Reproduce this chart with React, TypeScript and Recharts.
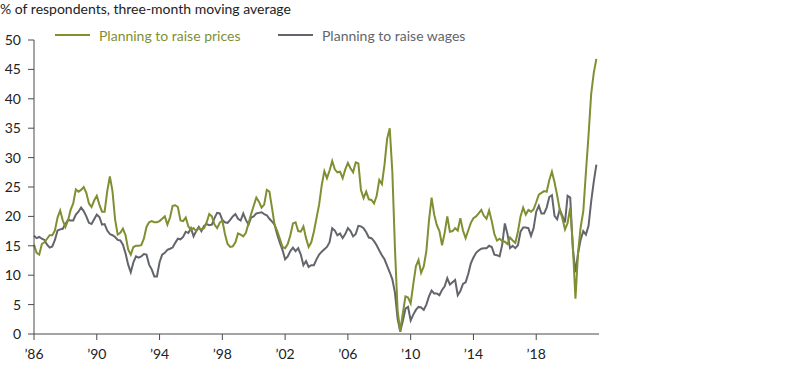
import { LineChart, Line, XAxis, YAxis } from "recharts";

// bimonthly readings, first point Jan 1986
const START_YEAR = 1986;
const STEP = 1 / 6;

const prices = [
  15.2, 13.8, 13.5, 15.3, 15.6, 16.2, 16.8, 16.8, 17.6, 19.8, 21.0, 19.3,
  18.2, 19.3, 21.1, 22.2, 24.6, 24.2, 24.5, 25.0, 24.0, 22.2, 21.6, 22.7,
  23.5, 22.0, 20.8, 20.8, 24.3, 26.8, 24.3, 19.5, 16.9, 17.2, 17.9, 16.8,
  14.4, 13.5, 14.8, 15.0, 15.0, 15.1, 16.2, 18.2, 19.0, 19.2, 19.0, 19.0,
  19.2, 19.6, 20.0, 18.6, 19.8, 21.8, 21.9, 21.6, 19.3, 19.2, 19.8, 18.3,
  17.7, 18.0, 17.5, 18.0, 17.8, 18.0, 19.0, 20.4, 20.0, 18.6, 18.0, 18.9,
  19.3, 17.0, 15.3, 14.8, 14.9, 15.6, 17.1, 16.9, 16.6, 17.2, 18.8, 20.4,
  21.8, 23.2, 22.5, 21.5, 22.0, 24.5, 24.2, 21.4, 18.5, 17.5, 16.2, 14.8,
  14.6, 15.3, 16.8, 18.8, 19.0, 17.5, 17.4, 18.3, 16.3, 14.8, 15.6, 17.4,
  19.7, 22.0, 25.3, 27.7, 26.5, 27.8, 29.4, 28.0, 27.5, 27.6, 26.5, 28.0,
  29.1, 28.2, 27.5, 29.2, 29.0, 24.5, 23.1, 24.2, 22.9, 22.8, 22.2, 23.5,
  26.2, 25.5, 28.8, 33.2, 35.0, 27.5, 14.5, 4.0, 0.5, 3.5, 6.4, 6.2,
  5.2, 8.5, 11.5, 12.6, 10.4, 11.5, 14.1, 19.3, 23.2, 20.3, 18.5, 17.5,
  15.1, 17.2, 20.0, 17.4, 17.5, 18.0, 17.6, 19.7, 17.6, 16.3, 17.6, 18.9,
  19.7, 20.0, 20.5, 21.1, 20.1, 19.6, 21.0, 19.2, 17.0, 15.9, 16.2, 15.8,
  15.7, 15.3, 16.4, 15.9, 15.5, 17.4, 20.0, 21.5, 20.3, 21.1, 20.8, 21.2,
  22.4, 23.7, 24.0, 24.3, 24.2, 26.2, 27.6, 25.8, 23.6, 21.1, 19.7, 17.8,
  18.9, 21.5, 15.0, 6.0, 13.9, 18.2, 20.9, 27.5, 33.8, 40.8, 44.4, 46.8,
];

const wages = [
  16.7, 16.3, 16.5, 16.2, 16.0, 15.2, 14.7, 14.9, 16.0, 17.6, 17.8, 17.9,
  18.7, 19.4, 19.3, 19.3, 20.3, 20.8, 21.5, 20.9, 20.0, 18.9, 18.7, 19.5,
  20.3, 19.9, 18.6, 18.7, 17.6, 17.0, 16.8, 16.5, 16.0, 15.9, 15.2, 13.7,
  11.8, 10.5, 12.2, 13.2, 13.0, 13.2, 13.6, 13.5, 11.8, 11.0, 9.8, 9.8,
  12.2, 13.5, 13.8, 14.3, 14.5, 14.7, 15.5, 16.2, 16.1, 16.5, 17.4, 17.2,
  18.0, 16.6, 17.5, 18.2, 17.5, 18.4, 18.7, 18.5, 18.6, 19.7, 20.6, 20.5,
  19.4, 19.0, 18.9, 19.4, 20.0, 20.4, 19.6, 19.3, 20.5, 19.4, 18.6, 19.8,
  20.0, 20.5, 20.6, 20.7, 20.4, 20.2, 19.6, 19.1, 18.6, 16.9, 15.5, 14.3,
  12.7, 13.2, 14.1, 14.7, 14.1, 14.6, 13.5, 11.7, 12.4, 11.4, 11.7, 11.7,
  12.7, 13.5, 14.0, 14.4, 14.8, 15.6, 18.0, 17.6, 16.8, 17.1, 16.3, 17.0,
  18.0, 17.5, 16.6, 17.0, 18.4, 18.3, 18.0, 17.3, 16.4, 16.3, 15.8, 15.1,
  14.2, 13.4, 12.7, 11.6, 10.5, 9.3, 7.0, 2.6, 0.4, 2.2, 4.3, 4.6,
  2.3, 3.3, 4.1, 4.6, 4.5, 4.1, 5.0, 6.4, 7.4, 6.9, 6.9, 6.6,
  7.5, 8.1, 9.5, 8.4, 8.8, 9.2, 6.6, 7.3, 8.5, 8.8, 10.2, 12.0,
  13.0, 13.8, 14.2, 14.5, 14.6, 14.6, 15.0, 14.8, 13.5, 13.4, 13.2, 15.2,
  18.8, 17.0, 14.6, 15.0, 14.6, 15.1, 17.4, 18.1, 18.1, 18.0, 16.7, 18.0,
  20.8, 21.8, 20.5, 20.5, 21.5, 23.3, 23.6, 20.1, 19.5, 21.2, 20.1, 19.0,
  23.5, 23.2, 14.5, 10.5, 13.7, 16.1, 17.5, 16.9, 18.4, 22.5, 25.9, 28.8,
];

const yearTicks = [1986, 1990, 1994, 1998, 2002, 2006, 2010, 2014, 2018];
const valueTicks = [0, 5, 10, 15, 20, 25, 30, 35, 40, 45, 50];

const GREEN = "#7f8f32";
const GREY = "#63656c";
const AXIS = "#4a4a4a";
const FONT = "Lato, 'Open Sans', sans-serif";

const data = prices.map((p, i) => ({
  t: START_YEAR + i * STEP,
  prices: p,
  wages: wages[i],
}));

function LegendItem({ color, label, left }: { color: string; label: string; left: number }) {
  return (
    <div style={{ position: "absolute", left, top: 26, display: "flex", alignItems: "center", height: 18 }}>
      <span style={{ display: "inline-block", width: 35, height: 2, background: color, marginRight: 9 }} />
      <span style={{ color, fontSize: 14, whiteSpace: "nowrap" }}>{label}</span>
    </div>
  );
}

export default function App() {
  return (
    <div
      style={{
        position: "absolute",
        left: 0,
        top: 0,
        width: 800,
        height: 368,
        fontFamily: FONT,
        background: "#fff",
      }}
    >
      <div style={{ position: "absolute", left: 0, top: 0, fontSize: 14, color: "#222", whiteSpace: "nowrap" }}>
        % of respondents, three-month moving average
      </div>
      <LegendItem color={GREEN} label="Planning to raise prices" left={55} />
      <LegendItem color={GREY} label="Planning to raise wages" left={278} />
      <LineChart
        width={800}
        height={368}
        data={data}
        margin={{ top: 40, right: 201, bottom: 0, left: 0 }}
      >
        <XAxis
          type="number"
          dataKey="t"
          domain={[1986, 2022]}
          ticks={yearTicks}
          tickFormatter={(y: number) => "\u2019" + String(y).slice(2)}
          height={34}
          tickSize={6}
          tickMargin={9}
          stroke={AXIS}
          tick={{ fill: "#222", fontSize: 14, fontFamily: FONT }}
        />
        <YAxis
          type="number"
          domain={[0, 50]}
          ticks={valueTicks}
          width={34}
          tickSize={6}
          tickMargin={7}
          stroke={AXIS}
          tick={{ fill: "#222", fontSize: 14, fontFamily: FONT }}
        />
        <Line
          type="linear"
          dataKey="wages"
          stroke={GREY}
          strokeWidth={2}
          dot={false}
          isAnimationActive={false}
        />
        <Line
          type="linear"
          dataKey="prices"
          stroke={GREEN}
          strokeWidth={2}
          dot={false}
          isAnimationActive={false}
        />
      </LineChart>
    </div>
  );
}
